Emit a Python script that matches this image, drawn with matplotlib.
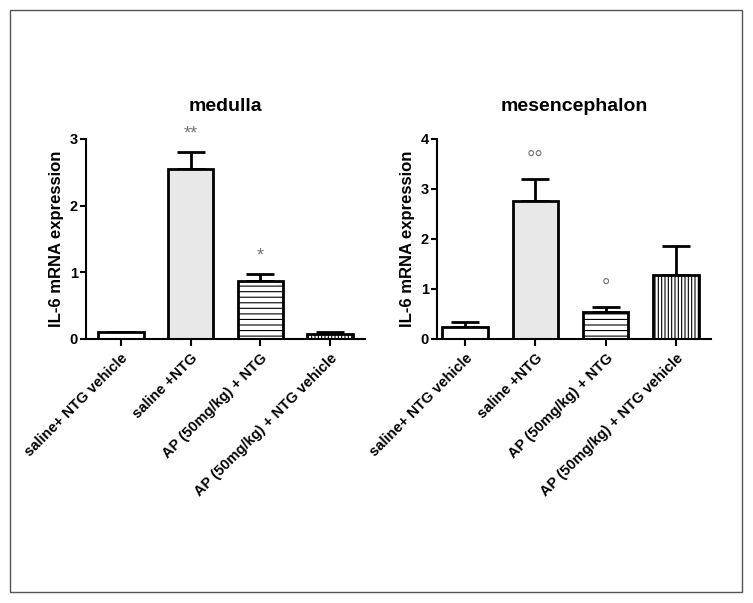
import matplotlib.pyplot as plt
import matplotlib.patches as mpatches
import numpy as np

plt.rcParams['font.family'] = ['Liberation Sans', 'DejaVu Sans']
plt.rcParams['hatch.linewidth'] = 0.8

groups = ["saline+ NTG vehicle", "saline +NTG", "AP (50mg/kg) + NTG",
          "AP (50mg/kg) + NTG vehicle"]

# medulla
med_mean = [0.10, 2.55, 0.87, 0.08]
med_err = [0.01, 0.25, 0.10, 0.02]
med_marks = ["", "**", "*", ""]

# mesencephalon
mes_mean = [0.25, 2.75, 0.55, 1.28]
mes_err = [0.10, 0.45, 0.10, 0.57]
mes_marks = ["", "\u00b0\u00b0", "\u00b0", ""]

fills = ["white", "#e8e8e8", "white", "white"]
hatches = [None, None, "---", "|||||"]

fig = plt.figure(figsize=(7.53, 6.03), dpi=100)
# outer frame
fig.patches.append(mpatches.Rectangle((10/753, 1-592/603), 732/753, 582/603,
                                      transform=fig.transFigure, fill=False,
                                      edgecolor="#555555", linewidth=1))

ax1 = fig.add_axes([86/753, 1-339/603, 279/753, 200/603])
ax2 = fig.add_axes([437/753, 1-339/603, 274/753, 200/603])


def draw(ax, means, errs, marks, title, ymax, xmin, msize):
    x = np.arange(len(means))
    for i in range(len(means)):
        ax.bar(x[i], means[i], width=0.65, color=fills[i], edgecolor="black",
               linewidth=2, hatch=hatches[i], zorder=2)
        ax.errorbar(x[i], means[i], yerr=[[0], [errs[i]]], fmt="none",
                    ecolor="black", elinewidth=2, capsize=10, capthick=2, zorder=1)
        if marks[i]:
            ax.text(x[i], means[i] + errs[i] + ymax * 0.05, marks[i],
                    ha="center", va="bottom", color="#777777", fontsize=msize)
    ax.set_xlim(xmin, 3.5)
    ax.set_ylim(0, ymax)
    ax.set_yticks(range(0, ymax + 1))
    ax.set_xticks(x)
    ax.set_xticklabels(groups, rotation=45, ha="right", rotation_mode="anchor",
                       fontsize=10.5, fontweight="bold")
    for t in ax.get_yticklabels():
        t.set_fontweight("bold")
        t.set_fontsize(10.5)
    ax.spines["top"].set_visible(False)
    ax.spines["right"].set_visible(False)
    ax.spines["left"].set_linewidth(1.5)
    ax.spines["bottom"].set_linewidth(1.5)
    ax.tick_params(width=1.5, length=4)
    ax.tick_params(axis="y", pad=2)
    ax.tick_params(axis="x", length=5, pad=4)
    ax.set_ylabel("IL-6 mRNA expression", fontsize=12, fontweight="bold",
                  labelpad=4)
    ax.set_title(title, fontsize=14, fontweight="bold", pad=20)


draw(ax1, med_mean, med_err, med_marks, "medulla", 3, -0.5, 13)
draw(ax2, mes_mean, mes_err, mes_marks, "mesencephalon", 4, -0.4, 15)

fig.savefig("out.png", dpi=100)
